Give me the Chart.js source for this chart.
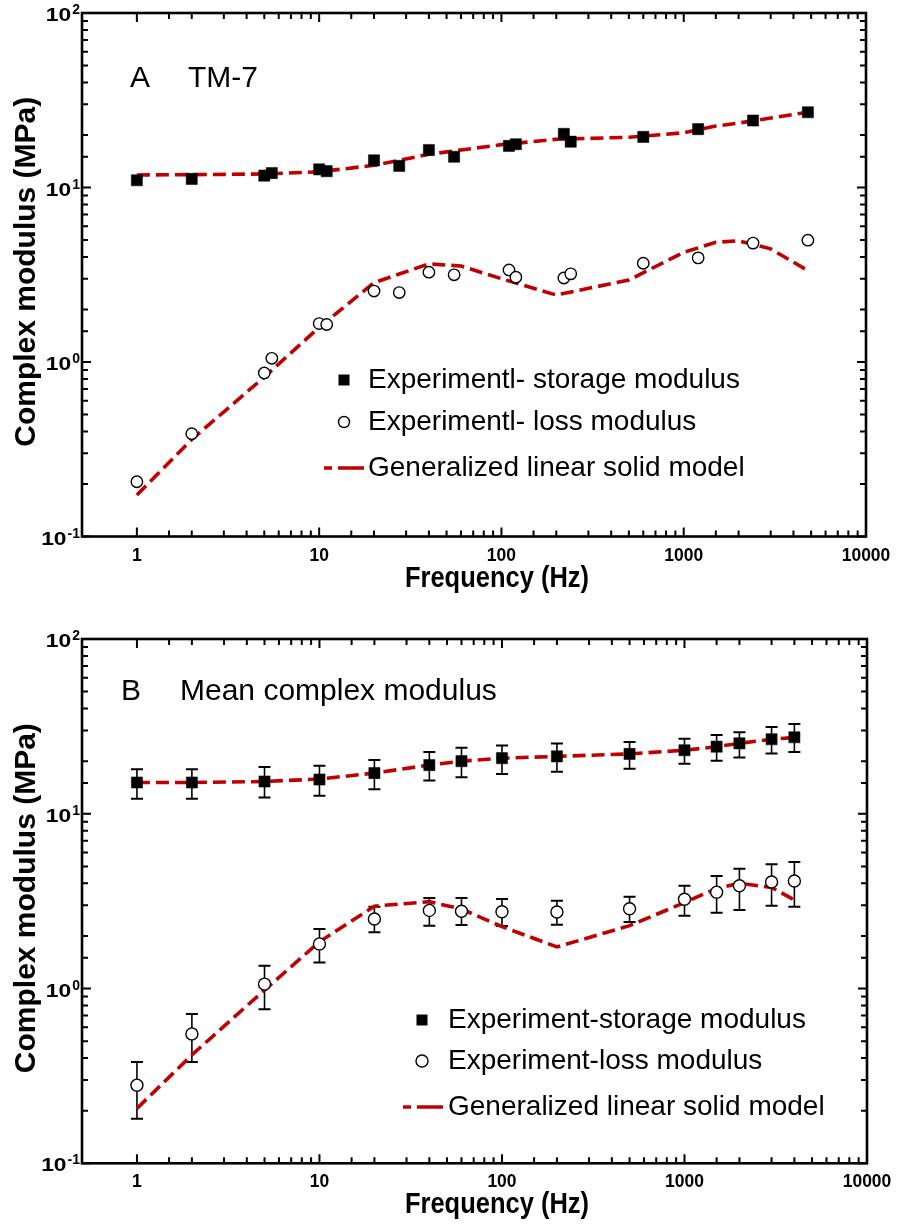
<!DOCTYPE html>
<html>
<head>
<meta charset="utf-8">
<script src="https://cdn.jsdelivr.net/npm/chart.js@4.4.1/dist/chart.umd.min.js"></script>
<style>
  html, body { margin: 0; padding: 0; background: #fff; }
  .panel { position: absolute; left: 0; width: 902px; height: 613px; }
  #panelA { top: 0; }
  #panelB { top: 613px; }
</style>
</head>
<body>
<div class="panel" id="panelA"><canvas id="chartA"></canvas></div>
<div class="panel" id="panelB"><canvas id="chartB"></canvas></div>
<script>
const FONT = '"Liberation Sans", Arial, Helvetica, sans-serif';
const RED = '#c00000';

// axis labels
const xTickVals = [1, 10, 100, 1000, 10000];
const xTickLabels = ['1', '10', '100', '1000', '10000'];
const yTickVals = [0.1, 1, 10, 100];
const yTickExps = ['-1', '0', '1', '2'];
const xTitle = 'Frequency (Hz)';
const yTitle = 'Complex modulus (MPa)';

// panel A - TM-7
const freqA = [1, 2, 5, 5.5, 10, 11, 20, 27.5, 40, 55, 110, 120, 220, 240, 600, 1200, 2400, 4800];
const storageA = [11.0, 11.2, 11.7, 12.1, 12.7, 12.4, 14.3, 13.3, 16.4, 15.0, 17.3, 17.7, 20.3, 18.3, 19.5, 21.6, 24.2, 27.0];
const lossA = [0.206, 0.388, 0.865, 1.05, 1.66, 1.64, 2.55, 2.50, 3.27, 3.16, 3.37, 3.06, 3.03, 3.20, 3.68, 3.95, 4.80, 4.99];
const modelFreqA = [1, 2, 5, 10, 20, 40, 60, 100, 200, 500, 1000, 1500, 2000, 3000, 4800];
const modelStorageA = [11.8, 11.85, 11.95, 12.3, 13.4, 15.5, 16.4, 17.6, 18.9, 19.4, 20.6, 22.5, 23.4, 25.0, 27.0];
const modelLossA = [0.173, 0.36, 0.82, 1.58, 2.85, 3.65, 3.55, 3.0, 2.42, 2.95, 4.25, 4.85, 4.95, 4.45, 3.34];
const legendA = ['Experimentl- storage modulus', 'Experimentl- loss modulus', 'Generalized linear solid model'];

// panel B - mean complex modulus
const freqB = [1, 2, 5, 10, 20, 40, 60, 100, 200, 500, 1000, 1500, 2000, 3000, 4000];
const storageB = [15.1, 15.1, 15.3, 15.7, 17.1, 19.0, 20.0, 20.8, 21.3, 22.0, 23.1, 24.2, 25.3, 26.7, 27.4];
const storageHiB = [18.0, 18.0, 18.5, 18.8, 20.3, 22.6, 23.9, 24.6, 25.2, 25.7, 26.9, 28.2, 29.3, 31.4, 32.6];
const storageLoB = [12.2, 12.2, 12.4, 12.7, 13.8, 15.5, 16.2, 16.9, 17.4, 18.1, 19.3, 20.1, 21.0, 22.1, 22.6];
const lossB = [0.28, 0.55, 1.06, 1.80, 2.50, 2.80, 2.77, 2.75, 2.74, 2.86, 3.24, 3.56, 3.87, 4.07, 4.12];
const lossHiB = [0.38, 0.715, 1.35, 2.19, 2.94, 3.30, 3.30, 3.25, 3.18, 3.35, 3.87, 4.40, 4.85, 5.15, 5.30];
const lossLoB = [0.18, 0.38, 0.76, 1.41, 2.10, 2.29, 2.31, 2.28, 2.32, 2.40, 2.61, 2.71, 2.81, 2.98, 2.94];
const modelStorageB = [15.1, 15.1, 15.3, 15.8, 17.1, 19.0, 20.0, 20.8, 21.3, 22.0, 23.1, 24.2, 25.3, 26.7, 27.3];
const modelLossB = [0.206, 0.417, 0.98, 1.85, 2.96, 3.14, 2.85, 2.26, 1.73, 2.29, 3.10, 3.74, 4.0, 3.79, 3.21];
const legendB = ['Experiment-storage modulus', 'Experiment-loss modulus', 'Generalized linear solid model'];

const pts = (xs, ys) => xs.map((x, i) => ({ x: x, y: ys[i] }));
const isDecade = v => Math.abs(Math.log10(v) - Math.round(Math.log10(v))) < 1e-6;

// text stretched/squeezed horizontally, like the faces used in the figure
function scaledText(ctx, text, x, y, sx) {
  ctx.save();
  ctx.translate(x, y);
  ctx.scale(sx, 1);
  ctx.fillText(text, 0, 0);
  ctx.restore();
}

const squareSet = (data, extra) => Object.assign({
  data: data, showLine: false, pointStyle: 'rect', pointRadius: 7.9,
  backgroundColor: '#000', borderColor: '#000', borderWidth: 0.5, order: 0
}, extra);
const circleSet = (data, r, extra) => Object.assign({
  data: data, showLine: false, pointStyle: 'circle', pointRadius: r,
  backgroundColor: '#fff', borderColor: '#000', borderWidth: 1.4, order: 0
}, extra);
const modelSet = (data) => ({
  data: data, showLine: true, pointRadius: 0, borderColor: RED, borderWidth: 3.6,
  borderDash: [13, 6], tension: 0, fill: false, order: 1
});

const decor = {
  id: 'decor',
  beforeDatasetsDraw(chart) {
    const { ctx, scales: { y } } = chart;
    ctx.save();
    ctx.strokeStyle = '#000';
    chart.data.datasets.forEach((ds, i) => {
      if (!ds.errHigh) return;
      chart.getDatasetMeta(i).data.forEach((pt, j) => {
        const top = y.getPixelForValue(ds.errHigh[j]);
        const bot = y.getPixelForValue(ds.errLow[j]);
        ctx.lineWidth = 1.6;
        ctx.beginPath();
        ctx.moveTo(pt.x, top); ctx.lineTo(pt.x, bot);
        ctx.stroke();
        ctx.lineWidth = 2;
        ctx.beginPath();
        ctx.moveTo(pt.x - 6, top); ctx.lineTo(pt.x + 6, top);
        ctx.moveTo(pt.x - 6, bot); ctx.lineTo(pt.x + 6, bot);
        ctx.stroke();
      });
    });
    ctx.restore();
  },
  afterDraw(chart, args, o) {
    const { ctx, chartArea: a, scales: { x, y } } = chart;
    ctx.save();
    ctx.strokeStyle = '#000';
    ctx.fillStyle = '#000';

    // inward ticks on all four sides
    ctx.lineWidth = 2;
    ctx.beginPath();
    x.ticks.forEach(t => {
      if (t.value < 1) return;
      const px = x.getPixelForValue(t.value);
      const len = isDecade(t.value) ? 9 : 6;
      ctx.moveTo(px, a.bottom); ctx.lineTo(px, a.bottom - len);
      ctx.moveTo(px, a.top); ctx.lineTo(px, a.top + len);
    });
    y.ticks.forEach(t => {
      const py = y.getPixelForValue(t.value);
      const len = isDecade(t.value) ? 9 : 6;
      ctx.moveTo(a.left, py); ctx.lineTo(a.left + len, py);
      ctx.moveTo(a.right, py); ctx.lineTo(a.right - len, py);
    });
    ctx.stroke();

    // frame
    ctx.lineWidth = 2.6;
    ctx.strokeRect(a.left, a.top, a.right - a.left, a.bottom - a.top);

    // x tick labels
    ctx.font = 'bold 19px ' + FONT;
    ctx.textAlign = 'center';
    ctx.textBaseline = 'alphabetic';
    xTickVals.forEach((v, i) => {
      scaledText(ctx, xTickLabels[i], x.getPixelForValue(v), a.bottom + 24, 0.92);
    });

    // y tick labels with superscript exponents
    ctx.textAlign = 'right';
    yTickVals.forEach((v, i) => {
      const py = y.getPixelForValue(v);
      ctx.font = 'bold 14px ' + FONT;
      const ew = ctx.measureText(yTickExps[i]).width;
      ctx.fillText(yTickExps[i], a.left - 2, py + 1);
      ctx.font = 'bold 19px ' + FONT;
      scaledText(ctx, '10', a.left - 3 - ew, py + 8, 1.2);
    });

    // axis titles
    ctx.font = 'bold 30px ' + FONT;
    ctx.textAlign = 'center';
    scaledText(ctx, xTitle, o.xTitleX, a.bottom + 50, 0.85);
    ctx.save();
    ctx.translate(27, (a.top + a.bottom) / 2 - 3);
    ctx.rotate(-Math.PI / 2);
    ctx.textBaseline = 'middle';
    ctx.fillText(yTitle, 0, 0);
    ctx.restore();

    // panel tag
    ctx.font = '30px ' + FONT;
    ctx.textAlign = 'left';
    ctx.textBaseline = 'alphabetic';
    o.tag.forEach(t => ctx.fillText(t.text, t.x, o.tagY));

    // legend
    const L = o.legend;
    ctx.font = '28px ' + FONT;
    ctx.textBaseline = 'middle';
    L.labels.forEach((lab, i) => ctx.fillText(lab, L.textX, L.rows[i]));
    const sq = chart.data.datasets[0];
    ctx.fillStyle = sq.backgroundColor;
    ctx.fillRect(L.symX - 5.5, L.rows[0] - 5.5, 11, 11);
    const cs = chart.data.datasets[1];
    ctx.beginPath();
    ctx.arc(L.symX, L.rows[1], L.r, 0, Math.PI * 2);
    ctx.fillStyle = cs.backgroundColor;
    ctx.fill();
    ctx.lineWidth = cs.borderWidth;
    ctx.strokeStyle = cs.borderColor;
    ctx.stroke();
    const ms = chart.data.datasets[2];
    ctx.strokeStyle = ms.borderColor;
    ctx.lineWidth = ms.borderWidth;
    ctx.beginPath();
    ctx.moveTo(L.lineX1, L.rows[2]); ctx.lineTo(L.lineX1 + 8, L.rows[2]);
    ctx.moveTo(L.lineX1 + 14, L.rows[2]); ctx.lineTo(L.lineX2, L.rows[2]);
    ctx.stroke();
    ctx.restore();
  }
};

function buildChart(id, datasets, box, decorOpts) {
  return new Chart(document.getElementById(id), {
    type: 'scatter',
    data: { datasets: datasets },
    options: {
      responsive: true,
      maintainAspectRatio: false,
      animation: false,
      events: [],
      layout: { padding: { top: box.top, right: box.right, left: 0, bottom: 0 } },
      plugins: { legend: { display: false }, tooltip: { enabled: false }, decor: decorOpts },
      scales: {
        x: {
          type: 'logarithmic', min: 0.5, max: 10000,
          grid: { display: false }, border: { display: false }, ticks: { display: false },
          afterFit: s => { s.height = box.xHeight; }
        },
        y: {
          type: 'logarithmic', min: 0.1, max: 100,
          grid: { display: false }, border: { display: false }, ticks: { display: false },
          afterFit: s => { s.width = box.left; }
        }
      }
    },
    plugins: [decor]
  });
}

buildChart('chartA', [
  squareSet(pts(freqA, storageA)),
  circleSet(pts(freqA, lossA), 5.7),
  modelSet(pts(modelFreqA, modelStorageA)),
  modelSet(pts(modelFreqA, modelLossA))
], { top: 13, right: 36, left: 82, xHeight: 76.5 }, {
  xTitleX: 497, tagY: 87,
  tag: [{ text: 'A', x: 130 }, { text: 'TM-7', x: 188 }],
  legend: { labels: legendA, symX: 344, textX: 368, rows: [380, 422, 468], r: 5.5, lineX1: 324, lineX2: 364 }
});

buildChart('chartB', [
  squareSet(pts(freqB, storageB), { errHigh: storageHiB, errLow: storageLoB }),
  circleSet(pts(freqB, lossB), 6, { errHigh: lossHiB, errLow: lossLoB }),
  modelSet(pts(freqB, modelStorageB)),
  modelSet(pts(freqB, modelLossB))
], { top: 26, right: 35, left: 82, xHeight: 62.7 }, {
  xTitleX: 497, tagY: 87,
  tag: [{ text: 'B', x: 121 }, { text: 'Mean complex modulus', x: 180 }],
  legend: { labels: legendB, symX: 422, textX: 448, rows: [407, 448, 494], r: 6, lineX1: 403, lineX2: 443 }
});
</script>
</body>
</html>
